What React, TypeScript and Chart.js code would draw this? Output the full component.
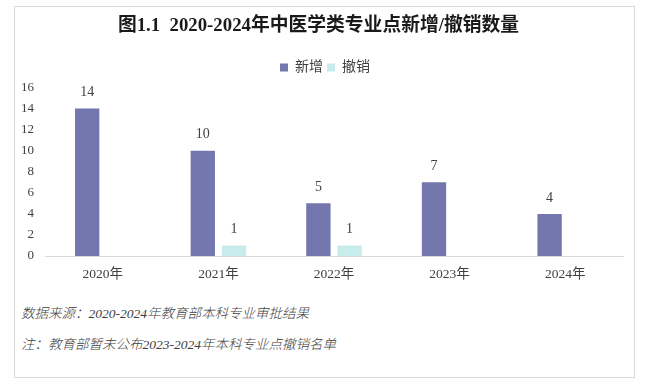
import React, { useEffect, useRef } from "react";
import { Chart, registerables } from "chart.js";

Chart.register(...registerables);

const TITLE = "图1.1  2020-2024年中医学类专业点新增/撤销数量";
const CATEGORIES = ["2020年", "2021年", "2022年", "2023年", "2024年"];
const SERIES_NAMES = ["新增", "撤销"];
const ADDED = [14, 10, 5, 7, 4];
const REVOKED = [null, 1, 1, null, null];
const Y_MAX = 16;
const Y_STEP = 2;
const NOTE_SOURCE = "数据来源：2020-2024年教育部本科专业审批结果";
const NOTE_REMARK = "注：教育部暂未公布2023-2024年本科专业点撤销名单";

const SERIF = "'Liberation Serif', 'Times New Roman', 'Noto Sans CJK SC', serif";

const dataLabels = {
  id: "dataLabels",
  afterDatasetsDraw(chart: any) {
    const ctx = chart.ctx;
    ctx.save();
    ctx.font = `14px ${SERIF}`;
    ctx.fillStyle = "#404040";
    ctx.textAlign = "center";
    ctx.textBaseline = "middle";
    chart.data.datasets.forEach((ds: any, i: number) => {
      const meta = chart.getDatasetMeta(i);
      meta.data.forEach((bar: any, j: number) => {
        const v = ds.data[j];
        if (v === null || v === undefined) return;
        ctx.fillText(String(v), bar.x, bar.y - 16);
      });
    });
    ctx.restore();
  },
};

const legendSpacer = {
  id: "legendSpacer",
  beforeLayout(chart: any) {
    const lg = chart.legend;
    if (lg && !lg._spacerPatched) {
      const orig = lg.fit;
      lg.fit = function (this: any) {
        orig.call(this);
        this.height += 3;
      };
      lg._spacerPatched = true;
    }
  },
  afterLayout(chart: any) {
    const lg = chart.legend;
    if (lg) {
      lg.left += 6.5;
      lg.right += 6.5;
    }
  },
};

export default function App() {
  const ref = useRef<HTMLCanvasElement>(null);

  useEffect(() => {
    if (!ref.current) return;
    const chart = new Chart(ref.current, {
      type: "bar",
      data: {
        labels: CATEGORIES,
        datasets: [
          {
            label: SERIES_NAMES[0],
            data: ADDED,
            backgroundColor: "#7476ae",
            categoryPercentage: 0.54,
            barPercentage: 0.78,
          },
          {
            label: SERIES_NAMES[1],
            data: REVOKED as any,
            backgroundColor: "#c8ecec",
            categoryPercentage: 0.54,
            barPercentage: 0.78,
          },
        ],
      },
      options: {
        animation: false,
        responsive: false,
        maintainAspectRatio: false,
        layout: { padding: { left: 0, right: 13, top: 0, bottom: 0 } },
        plugins: {
          title: {
            display: true,
            text: TITLE,
            color: "#1a1a1a",
            font: { family: SERIF, size: 18.8, weight: "bold" },
            padding: { top: 9, bottom: 19 },
          },
          legend: {
            display: true,
            position: "top",
            labels: {
              boxWidth: 8,
              boxHeight: 8,
              padding: 4,
              color: "#404040",
              font: { family: SERIF, size: 14 },
            },
          },
          tooltip: { enabled: false },
        },
        scales: {
          x: {
            grid: { display: false, drawTicks: false },
            border: { display: true, color: "#d9d9d9", width: 1 },
            ticks: {
              color: "#404040",
              font: { family: SERIF, size: 13.5 },
              padding: 10,
            },
            afterFit(scale: any) {
              scale.height = 34;
            },
          },
          y: {
            min: 0,
            max: Y_MAX,
            grid: { display: false, drawTicks: false },
            border: { display: false },
            ticks: {
              stepSize: Y_STEP,
              color: "#404040",
              font: { family: SERIF, size: 13 },
              padding: 11,
            },
            afterFit(scale: any) {
              scale.width = 31;
            },
          },
        },
      },
      plugins: [dataLabels, legendSpacer],
    });
    return () => chart.destroy();
  }, []);

  const noteStyle: React.CSSProperties = {
    position: "absolute",
    left: 21,
    fontFamily: SERIF,
    fontStyle: "italic",
    fontWeight: 300,
    fontSize: 13.5,
    color: "#404040",
    whiteSpace: "nowrap",
    lineHeight: "16px",
  };

  return (
    <div
      style={{
        position: "fixed",
        left: 0,
        top: 0,
        width: 647,
        height: 384,
        background: "#ffffff",
      }}
    >
      <div
        style={{
          position: "absolute",
          left: 14,
          top: 6,
          width: 621,
          height: 372,
          border: "1px solid #d9d9d9",
          boxSizing: "border-box",
        }}
      />
      <canvas
        ref={ref}
        width={622}
        height={284}
        style={{ position: "absolute", left: 14, top: 6, width: 622, height: 284 }}
      />
      <div style={{ ...noteStyle, top: 306 }}>{NOTE_SOURCE}</div>
      <div style={{ ...noteStyle, top: 337 }}>{NOTE_REMARK}</div>
    </div>
  );
}
